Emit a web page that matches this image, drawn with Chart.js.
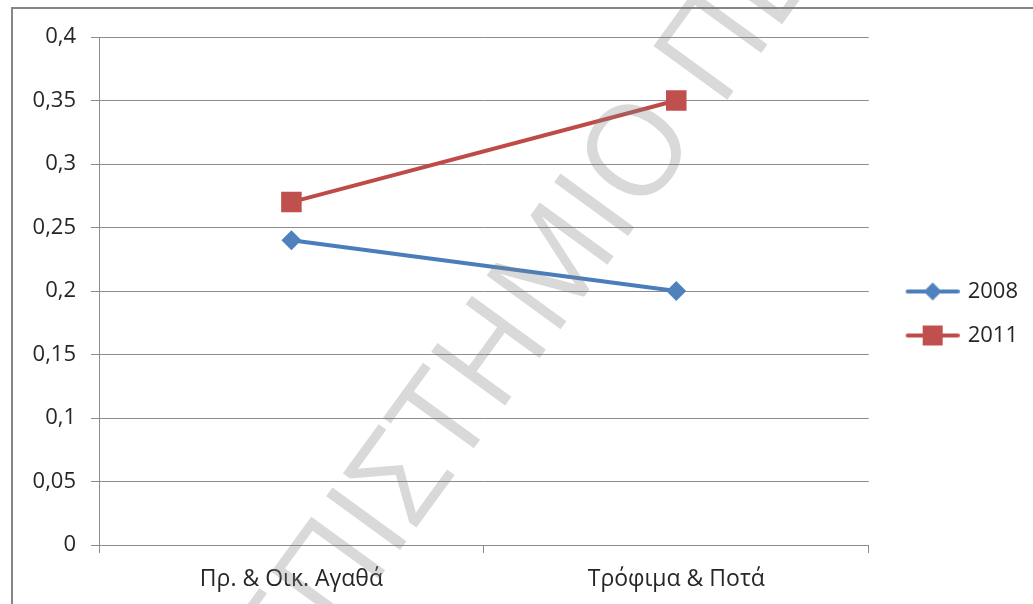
<!DOCTYPE html>
<html>
<head>
<meta charset="utf-8">
<script src="https://cdn.jsdelivr.net/npm/chart.js@4/dist/chart.umd.min.js"></script>
<style>
  html, body { margin: 0; padding: 0; background: #ffffff; }
  #wrap { width: 1033px; height: 604px; position: relative; }
</style>
</head>
<body>
<div id="wrap"><canvas id="c" width="1033" height="604"></canvas></div>
<script>
const categories = ['Πρ. & Οικ. Αγαθά', 'Τρόφιμα & Ποτά'];
const series2008 = [0.24, 0.2];
const series2011 = [0.27, 0.35];
const seriesNames = ['2008', '2011'];
const yMin = 0, yMax = 0.4, yStep = 0.05;
const watermarkText = 'ΠΑΝΕΠΙΣΤΗΜΙΟ ΠΕΙΡΑΙΩΣ';

const FONT = '"Open Sans", "Noto Sans", sans-serif';
const blue = '#4A7EBB', blueFill = '#4F81BD';
const red = '#BE4B48', redFill = '#C0504D';
const gridColor = '#8c8c8c';

function legendImage(kind, lineColor, fillColor) {
  const c = document.createElement('canvas');
  c.width = 72; c.height = 24;
  const g = c.getContext('2d');
  g.strokeStyle = lineColor; g.lineWidth = 4; g.lineCap = 'round';
  g.beginPath(); g.moveTo(20, 12); g.lineTo(70, 12); g.stroke();
  g.fillStyle = fillColor;
  const cx = 45, cy = 12;
  if (kind === 'diamond') {
    g.beginPath(); g.moveTo(cx - 9, cy); g.lineTo(cx, cy - 9); g.lineTo(cx + 9, cy); g.lineTo(cx, cy + 9); g.closePath(); g.fill();
  } else {
    g.fillRect(cx - 10, cy - 10, 20, 20);
  }
  return c;
}
const legendImgs = [legendImage('diamond', blue, blueFill), legendImage('square', red, redFill)];

const framePlugin = {
  id: 'frame',
  afterLayout(chart) {
    if (chart.legend) { chart.legend.top -= 7; chart.legend.bottom -= 7; }
  },
  beforeDraw(chart) {
    const ctx = chart.ctx;
    ctx.save();
    ctx.fillStyle = '#ffffff';
    ctx.fillRect(0, 0, chart.width, chart.height);
    ctx.strokeStyle = '#868686';
    ctx.lineWidth = 2;
    ctx.beginPath();
    ctx.moveTo(12, chart.height);
    ctx.lineTo(12, 8);
    ctx.lineTo(chart.width, 8);
    ctx.stroke();
    ctx.restore();
  }
};

const watermarkPlugin = {
  id: 'watermark',
  afterDraw(chart) {
    const ctx = chart.ctx;
    ctx.save();
    const size = 128;
    ctx.font = size + 'px ' + FONT;
    const pre = ctx.measureText('ΠΑΝΕΠΙ').width;
    const sig = ctx.measureText('Σ').width;
    ctx.translate(398, 475);
    ctx.rotate(-54 * Math.PI / 180);
    ctx.fillStyle = 'rgba(128,128,128,0.3)';
    ctx.strokeStyle = 'rgba(128,128,128,0.3)';
    ctx.lineWidth = 0;
    ctx.textBaseline = 'alphabetic';
    ctx.fillText(watermarkText, -(pre + sig / 2), size * 0.714 / 2);
    ctx.restore();
  }
};

new Chart(document.getElementById('c'), {
  type: 'line',
  data: {
    labels: categories,
    datasets: [
      {
        label: seriesNames[0], data: series2008,
        borderColor: blue, backgroundColor: blueFill, borderWidth: 4,
        pointStyle: 'rectRot', pointRadius: 10, pointBorderWidth: 0,
        pointBackgroundColor: blueFill, tension: 0
      },
      {
        label: seriesNames[1], data: series2011,
        borderColor: red, backgroundColor: redFill, borderWidth: 4,
        pointStyle: 'rect', pointRadius: 14.5, pointBorderWidth: 0,
        pointBackgroundColor: redFill, tension: 0
      }
    ]
  },
  options: {
    responsive: false,
    animation: false,
    events: [],
    layout: { padding: { top: 37, left: 0, right: 5, bottom: 0 } },
    plugins: {
      tooltip: { enabled: false },
      legend: {
        position: 'right',
        labels: {
          usePointStyle: true,
          pointStyleWidth: 66,
          padding: 22,
          color: '#262626',
          font: { family: FONT, size: 22 },
          generateLabels(chart) {
            return chart.data.datasets.map((ds, i) => ({
              text: ds.label,
              pointStyle: legendImgs[i],
              fillStyle: ds.backgroundColor,
              strokeStyle: ds.borderColor,
              lineWidth: 0,
              hidden: false,
              datasetIndex: i,
              fontColor: '#262626'
            }));
          }
        }
      }
    },
    scales: {
      x: {
        offset: true,
        grid: { offset: true, drawOnChartArea: false, drawTicks: true, tickLength: 8, color: gridColor },
        border: { display: true, color: gridColor, width: 1 },
        ticks: { color: '#262626', font: { family: FONT, size: 23 }, padding: 13, maxRotation: 0 },
        afterFit(scale) { scale.height = 59; }
      },
      y: {
        min: yMin, max: yMax,
        grid: { color: gridColor, tickLength: 8, lineWidth: 1 },
        border: { display: true, color: gridColor, width: 1 },
        ticks: {
          stepSize: yStep,
          color: '#262626',
          font: { family: FONT, size: 22 },
          padding: 15,
          callback: (v) => Number(v.toFixed(2)).toString().replace('.', ',')
        },
        afterFit(scale) { scale.width = 99; }
      }
    }
  },
  plugins: [framePlugin, watermarkPlugin]
});
</script>
</body>
</html>
